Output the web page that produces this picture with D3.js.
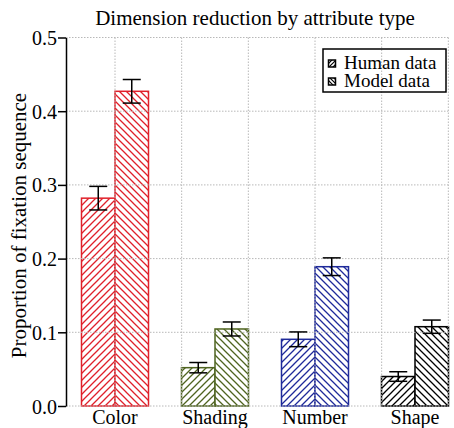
<!DOCTYPE html>
<html><head><meta charset="utf-8">
<script src="https://cdn.jsdelivr.net/npm/d3@7"></script>
<style>body{margin:0;background:#fff}svg{display:block}</style>
</head><body><svg id="c" width="454" height="428"></svg>
<script>
const categories = ["Color","Shading","Number","Shape"];
const colors = ["#e0202a","#4f6420","#1f2a9a","#000000"];
const humanVals = [0.282,0.052,0.0905,0.040];
const humanErr  = [0.016,0.007,0.010,0.0065];
const modelVals = [0.427,0.1045,0.189,0.1076];
const modelErr  = [0.016,0.0095,0.012,0.009];
const yTicks = [0,0.1,0.2,0.3,0.4,0.5];
const gridX = [1,5/3,7/3,3,11/3,13/3];
const seriesNames = ["Human data","Model data"];

const FONT = '"Liberation Serif"';
const svg = d3.select("#c");
const x = d3.scaleLinear().domain([0.51,4.333]).range([66,448.3]);
const y = d3.scaleLinear().domain([0,0.5]).range([406,37.5]);
const bw = 0.335;

const defs = svg.append("defs");
function hatch(id, color, dir, s, w){
  const p = defs.append("pattern").attr("id",id).attr("patternUnits","userSpaceOnUse").attr("width",s).attr("height",s);
  p.append("rect").attr("width",s).attr("height",s).attr("fill","#fff");
  const d = dir>0 ? `M0,${s} L${s},0 M${-s/2},${s/2} L${s/2},${-s/2} M${s/2},${s*1.5} L${s*1.5},${s/2}`
                  : `M0,0 L${s},${s} M${-s/2},${s/2} L${s/2},${s*1.5} M${s/2},${-s/2} L${s*1.5},${s/2}`;
  p.append("path").attr("d",d).attr("stroke",color).attr("stroke-width",w).attr("fill","none");
}
colors.forEach((c,i)=>{hatch("h"+i,c,1,7,1.3);hatch("m"+i,c,-1,7,1.3);});
hatch("lh","#000",1,4,1.2); hatch("lm","#000",-1,4,1.2);

categories.forEach((cat,i)=>{
  const c = i+1;
  [[humanVals[i],c-bw,"h"],[modelVals[i],c,"m"]].forEach(([v,x0,k])=>{
    svg.append("rect").attr("x",x(x0)).attr("y",y(v)).attr("width",x(x0+bw)-x(x0)).attr("height",y(0)-y(v))
      .attr("fill",`url(#${k}${i})`).attr("stroke",colors[i]).attr("stroke-width",1.5);
  });
});

const g = svg.append("g").attr("stroke","#b8b8b8").attr("stroke-width",1).attr("stroke-dasharray","1.5,1.5");
yTicks.forEach(t=>g.append("line").attr("x1",x(0.51)).attr("x2",x(4.333)).attr("y1",y(t)).attr("y2",y(t)));
gridX.forEach(t=>g.append("line").attr("x1",x(t)).attr("x2",x(t)).attr("y1",y(0.5)).attr("y2",y(0)));

categories.forEach((cat,i)=>{
  const c = i+1;
  [[humanVals[i],humanErr[i],c-bw/2],[modelVals[i],modelErr[i],c+bw/2]].forEach(([v,e,cx])=>{
    const eg = svg.append("g").attr("stroke","#000").attr("stroke-width",1.5);
    eg.append("line").attr("x1",x(cx)).attr("x2",x(cx)).attr("y1",y(v+e)).attr("y2",y(v-e));
    eg.append("line").attr("x1",x(cx)-9).attr("x2",x(cx)+9).attr("y1",y(v+e)).attr("y2",y(v+e));
    eg.append("line").attr("x1",x(cx)-9).attr("x2",x(cx)+9).attr("y1",y(v-e)).attr("y2",y(v-e));
  });
});

const ax = svg.append("g").attr("transform","translate(66,0)")
  .call(d3.axisLeft(y).tickValues(yTicks).tickFormat(d3.format(".1f")).tickSizeInner(8).tickSizeOuter(0).tickPadding(1));
ax.select(".domain").attr("stroke","#000").attr("stroke-width",1.5);
ax.selectAll(".tick line").attr("stroke","#000").attr("stroke-width",1.5);
ax.selectAll("text").attr("fill","#000").attr("dy","0.35em").style("font-family",FONT).style("font-size","20px");

categories.forEach((cat,i)=>{
  svg.append("text").attr("x",x(i+1)).attr("y",424).attr("text-anchor","middle")
    .style("font-family",FONT).style("font-size","20px").text(cat);
});

svg.append("text").attr("x",255).attr("y",25).attr("text-anchor","middle")
  .style("font-family",FONT).style("font-size","21px").text("Dimension reduction by attribute type");
svg.append("text").attr("transform","translate(25.5,225.5) rotate(-90)").attr("text-anchor","middle")
  .style("font-family",FONT).style("font-size","21px").text("Proportion of fixation sequence");

const lg = svg.append("g");
lg.append("rect").attr("x",323).attr("y",49).attr("width",123).attr("height",43).attr("fill","none").attr("stroke","#000").attr("stroke-width",1.5);
seriesNames.forEach((n,i)=>{
  const base = 68.5 + i*18;
  lg.append("rect").attr("x",328.5).attr("y",base-8.5).attr("width",7).attr("height",7).attr("fill",`url(#${i?"lm":"lh"})`).attr("stroke","#000").attr("stroke-width",1.5);
  lg.append("text").attr("x",344).attr("y",base).style("font-family",FONT).style("font-size","19px").text(n);
});
</script></body></html>
